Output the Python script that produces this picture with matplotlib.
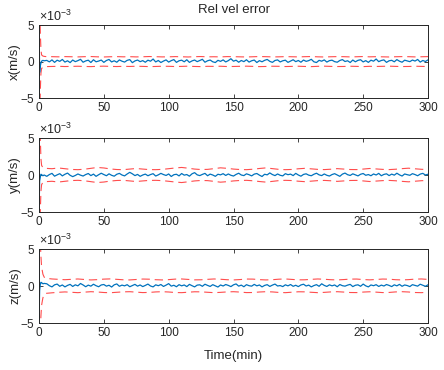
import numpy as np
import matplotlib
matplotlib.use("Agg")
import matplotlib.pyplot as plt
from matplotlib.ticker import ScalarFormatter

plt.rcParams['font.family'] = ['Liberation Sans', 'DejaVu Sans']
plt.rcParams['axes.unicode_minus'] = False
plt.rcParams['lines.scale_dashes'] = False
plt.rcParams['mathtext.fontset'] = 'custom'
plt.rcParams['mathtext.rm'] = 'Liberation Sans'

SCALE = 1e-3  # values below are in 1e-3 m/s

title = "Rel vel error"
xlabel = "Time(min)"
ylabels = ["x(m/s)", "y(m/s)", "z(m/s)"]
xticks = [0, 50, 100, 150, 200, 250, 300]
yticks = [-5, 0, 5]

# error time axis (min)
te = [0, 0.1, 0.25, 0.5, 1, 1.5, 2, 3, 4] + list(range(6, 301, 2))

ex = [8.0, -8.0, 2.0, -1.5, -0.6, -0.2, 0.05, 0.15, 0.10,
      0.15, -0.05, 0.22, -0.12, 0.18, 0.02, 0.28, -0.08, 0.10, -0.15,
      0.20, -0.02, 0.12, 0.30, -0.10, 0.08, 0.18, -0.14, 0.24, -0.04,
      0.06, 0.20, -0.12, 0.14, 0.28, -0.06, 0.10, -0.10, 0.22, 0.04,
      -0.08, 0.16, 0.26, -0.16, 0.08, 0.20, -0.02, 0.12, -0.10, 0.18,
      0.04, 0.34, -0.06, 0.14, -0.14, 0.06, 0.22, -0.08, 0.12, 0.26,
      -0.12, 0.10, 0.18, -0.04, 0.24, -0.12, 0.08, 0.20, -0.02, 0.14,
      0.30, -0.10, 0.10, 0.20, -0.04, -0.14, 0.16, 0.02, 0.22, -0.06,
      0.12, 0.38, 0.04, 0.18, -0.10, 0.14, -0.02, 0.24, -0.08, 0.10,
      0.20, -0.14, 0.12, -0.04, 0.16, 0.28, 0.02, -0.12, 0.14, 0.22,
      -0.06, 0.10, 0.18, -0.12, 0.06, 0.24, -0.02, 0.14, -0.10, 0.20,
      0.02, 0.12, 0.30, -0.04, -0.14, 0.16, 0.04, 0.22, -0.08, 0.12,
      0.18, -0.02, -0.10, 0.14, 0.26, 0.00, 0.10, -0.14, 0.20, -0.04,
      0.16, 0.24, -0.06, 0.12, -0.12, 0.18, 0.04, 0.34, -0.02, 0.14,
      0.22, -0.12, 0.10, 0.16, -0.04, 0.26, 0.04, -0.10, 0.18, 0.08,
      -0.02, 0.20, 0.06, 0.28, -0.08, 0.14, 0.00, 0.22]

ey = [8.0, -8.0, -3.0, -0.8, -0.3, 0.1, 0.05, -0.1, 0.0,
      -0.18, 0.06, 0.22, -0.16, 0.02, 0.18, -0.12, 0.10, 0.26, -0.04,
      -0.22, -0.06, 0.14, -0.02, -0.14, 0.06, 0.20, -0.08, 0.12, -0.18,
      0.04, 0.24, 0.06, -0.10, 0.16, -0.04, -0.16, 0.10, 0.22, 0.00,
      -0.12, 0.14, 0.36, 0.16, -0.08, 0.08, -0.18, 0.00, 0.12, -0.10,
      0.06, 0.18, -0.14, 0.02, 0.22, 0.06, -0.06, 0.14, -0.20, 0.04,
      0.10, -0.12, 0.20, -0.02, 0.06, -0.16, 0.16, 0.32, 0.02, -0.08,
      0.08, 0.22, -0.10, 0.12, 0.00, -0.18, 0.10, 0.02, 0.18, -0.06,
      0.14, -0.04, -0.14, 0.08, 0.24, 0.00, -0.08, 0.16, 0.04, -0.12,
      0.12, 0.20, -0.02, -0.20, 0.10, 0.02, 0.28, 0.06, -0.08, 0.14,
      -0.04, -0.12, 0.18, 0.04, 0.12, -0.08, 0.22, 0.00, -0.16, 0.08,
      0.16, -0.02, -0.10, 0.10, 0.24, 0.02, -0.08, 0.14, -0.04, -0.14,
      0.06, 0.18, 0.00, -0.18, 0.12, 0.26, 0.04, -0.06, 0.16, 0.02,
      -0.12, 0.10, 0.20, -0.04, 0.06, -0.10, 0.14, 0.00, 0.22, -0.10,
      0.08, 0.16, -0.08, 0.12, -0.02, 0.24, 0.02, -0.14, 0.14, 0.04,
      -0.04, 0.18, 0.06, -0.10, 0.12, 0.22, 0.00, 0.10]

ez = [8.0, -8.0, -2.5, -0.6, 0.2, 0.5, 0.45, 0.3, 0.35,
      0.30, 0.04, -0.12, 0.16, 0.26, -0.04, 0.14, -0.12, 0.08, 0.22,
      -0.06, 0.16, 0.02, 0.34, 0.14, -0.10, 0.12, -0.02, 0.24, 0.04,
      -0.10, 0.14, 0.20, -0.02, 0.10, -0.14, 0.16, 0.28, -0.04, 0.12,
      0.02, 0.18, -0.10, 0.06, 0.22, -0.02, 0.14, -0.08, 0.08, 0.26,
      0.00, -0.12, 0.16, 0.04, 0.20, -0.06, 0.12, 0.32, -0.02, 0.10,
      -0.10, 0.18, 0.02, 0.14, -0.08, 0.22, 0.04, -0.12, 0.12, 0.16,
      -0.04, 0.24, 0.08, -0.06, 0.18, 0.02, -0.14, 0.14, 0.00, 0.20,
      0.08, -0.08, 0.16, 0.28, -0.02, 0.12, -0.10, 0.18, 0.04, -0.02,
      0.22, 0.02, 0.14, -0.12, 0.08, 0.18, -0.06, 0.12, 0.26, 0.00,
      0.06, -0.08, 0.16, 0.02, 0.20, -0.04, 0.10, -0.08, 0.14, 0.24,
      0.00, 0.12, -0.12, 0.06, 0.18, -0.04, 0.30, 0.08, -0.06, 0.16,
      0.02, 0.14, -0.10, 0.20, 0.04, -0.02, 0.12, 0.22, -0.08, 0.10,
      0.16, -0.04, 0.26, 0.02, -0.12, 0.14, 0.04, 0.18, -0.06, 0.12,
      0.00, 0.20, 0.08, -0.08, 0.16, 0.02, 0.22, -0.04, 0.14, 0.06,
      -0.08, 0.18, 0.08, -0.02, 0.24, 0.10, -0.04, 0.16]

# bound time axis (min)
tb = [0, 0.5, 1, 1.5, 2, 3, 4, 5] + list(range(10, 301, 5))

bx_up = [20, 9, 4, 1.6, 0.9, 0.75, 0.7, 0.68,
         0.66, 0.64, 0.67, 0.65, 0.63, 0.66, 0.68, 0.64, 0.62, 0.65,
         0.67, 0.64, 0.66, 0.63, 0.65, 0.68, 0.66, 0.63, 0.64, 0.67,
         0.65, 0.62, 0.66, 0.68, 0.64, 0.65, 0.63, 0.67, 0.66, 0.64,
         0.62, 0.65, 0.68, 0.66, 0.63, 0.64, 0.67, 0.65, 0.63, 0.66,
         0.68, 0.64, 0.62, 0.65, 0.67, 0.66, 0.63, 0.65, 0.68, 0.64,
         0.66, 0.64, 0.62, 0.65, 0.67, 0.66, 0.63, 0.65, 0.67]
bx_lo = [-20, -9, -4, -1.6, -0.95, -0.8, -0.72, -0.7,
         -0.68, -0.66, -0.69, -0.67, -0.65, -0.68, -0.70, -0.66, -0.64, -0.67,
         -0.69, -0.66, -0.68, -0.65, -0.67, -0.70, -0.68, -0.65, -0.66, -0.69,
         -0.67, -0.64, -0.68, -0.70, -0.66, -0.67, -0.65, -0.69, -0.68, -0.66,
         -0.64, -0.67, -0.70, -0.68, -0.65, -0.66, -0.69, -0.67, -0.65, -0.68,
         -0.70, -0.66, -0.64, -0.67, -0.69, -0.68, -0.65, -0.67, -0.70, -0.66,
         -0.68, -0.66, -0.64, -0.67, -0.69, -0.68, -0.65, -0.67, -0.69]

by_up = [20, 10, 5, 2.2, 1.3, 1.0, 0.95, 0.9,
         0.85, 0.95, 0.85, 0.75, 0.72, 0.78, 0.9, 1.02, 0.95, 0.82,
         0.74, 0.72, 0.8, 0.88, 0.8, 0.73, 0.72, 0.76, 0.85, 0.95,
         1.02, 0.92, 0.8, 0.74, 0.76, 0.86, 0.97, 0.9, 0.8, 0.74,
         0.72, 0.78, 0.88, 0.96, 0.86, 0.76, 0.72, 0.75, 0.84, 0.9,
         0.83, 0.76, 0.73, 0.78, 0.86, 0.8, 0.74, 0.73, 0.8, 0.88,
         0.82, 0.76, 0.73, 0.78, 0.86, 0.92, 0.84, 0.77, 0.74]
by_lo = [-20, -10, -5, -2.2, -1.3, -1.0, -0.95, -0.9,
         -0.85, -0.95, -0.85, -0.75, -0.72, -0.78, -0.9, -1.02, -0.95, -0.82,
         -0.74, -0.72, -0.8, -0.88, -0.8, -0.73, -0.72, -0.76, -0.85, -0.95,
         -1.02, -0.92, -0.8, -0.74, -0.76, -0.86, -0.97, -0.9, -0.8, -0.74,
         -0.72, -0.78, -0.88, -0.96, -0.86, -0.76, -0.72, -0.75, -0.84, -0.9,
         -0.83, -0.76, -0.73, -0.78, -0.86, -0.8, -0.74, -0.73, -0.8, -0.88,
         -0.82, -0.76, -0.73, -0.78, -0.86, -0.92, -0.84, -0.77, -0.74]

bz_up = [20, 10, 6, 4.0, 2.6, 1.6, 1.2, 1.05,
         0.95, 0.9, 0.85, 0.9, 0.95, 0.88, 0.82, 0.86, 0.93, 0.96,
         0.9, 0.84, 0.82, 0.88, 0.94, 0.92, 0.85, 0.82, 0.86, 0.93,
         0.95, 0.89, 0.83, 0.84, 0.9, 0.95, 0.91, 0.85, 0.82, 0.87,
         0.94, 0.93, 0.86, 0.82, 0.85, 0.92, 0.95, 0.89, 0.83, 0.84,
         0.9, 0.95, 0.91, 0.85, 0.82, 0.87, 0.93, 0.94, 0.87, 0.83,
         0.88, 0.94, 0.92, 0.85, 0.82, 0.86, 0.93, 0.95, 0.89]
bz_lo = [-20, -10, -6, -4.0, -2.6, -1.6, -1.2, -1.0,
         -0.92, -0.85, -0.8, -0.85, -0.9, -0.83, -0.77, -0.81, -0.88, -0.91,
         -0.85, -0.79, -0.77, -0.83, -0.89, -0.87, -0.8, -0.77, -0.81, -0.88,
         -0.9, -0.84, -0.78, -0.79, -0.85, -0.9, -0.86, -0.8, -0.77, -0.82,
         -0.89, -0.88, -0.81, -0.77, -0.8, -0.87, -0.9, -0.84, -0.78, -0.79,
         -0.85, -0.9, -0.86, -0.8, -0.77, -0.82, -0.88, -0.89, -0.82, -0.78,
         -0.83, -0.89, -0.87, -0.8, -0.77, -0.81, -0.88, -0.9, -0.84]

errors = [ex, ey, ez]
bounds = [(bx_up, bx_lo), (by_up, by_lo), (bz_up, bz_lo)]

W, H = 444, 370
fig = plt.figure(figsize=(W / 100, H / 100), dpi=100)

# axes boxes in pixels: (left, top, right, bottom)
boxes = [(39, 25, 428, 98), (39, 138, 428, 212), (39, 249, 428, 323)]

BLUE = '#0072BD'
RED = '#FF2020'
DARK = '#262626'

for i, (l, t, r, b) in enumerate(boxes):
    ax = fig.add_axes([l / W, 1 - b / H, (r - l) / W, (b - t) / H])
    up, lo = bounds[i]
    ax.plot(tb, np.array(up) * SCALE, color=RED, lw=0.8, alpha=0.8, dashes=(6, 3.5))
    ax.plot(tb, np.array(lo) * SCALE, color=RED, lw=0.8, alpha=0.8, dashes=(6, 3.5))
    ax.plot(te, np.array(errors[i]) * SCALE, color=BLUE, lw=0.9)
    ax.set_xlim(0, 300)
    ax.set_ylim(-5 * SCALE, 5 * SCALE)
    ax.set_xticks(xticks)
    ax.set_yticks(np.array(yticks) * SCALE)
    fmt = ScalarFormatter(useMathText=True)
    fmt.set_powerlimits((-2, 2))
    ax.yaxis.set_major_formatter(fmt)
    ax.yaxis.get_offset_text().set_fontsize(9)
    ax.yaxis.get_offset_text().set_color(DARK)
    ax.tick_params(direction='in', length=3, width=0.6, top=True, right=True,
                   labelsize=8.5, colors=DARK, pad=3)
    for s in ax.spines.values():
        s.set_linewidth(0.7)
        s.set_color(DARK)
    ax.set_ylabel(ylabels[i], fontsize=9.5, color=DARK)
    ax.yaxis.set_label_coords((21 - l) / (r - l), 0.5)
    if i == 2:
        ax.set_xlabel(xlabel, fontsize=9.5, color=DARK, labelpad=8)

fig.text((39 + 428) / 2 / W, 1 - 10 / H, title, ha='center', va='center',
         fontsize=9.5, color=DARK)

fig.savefig('out.png', dpi=100)
